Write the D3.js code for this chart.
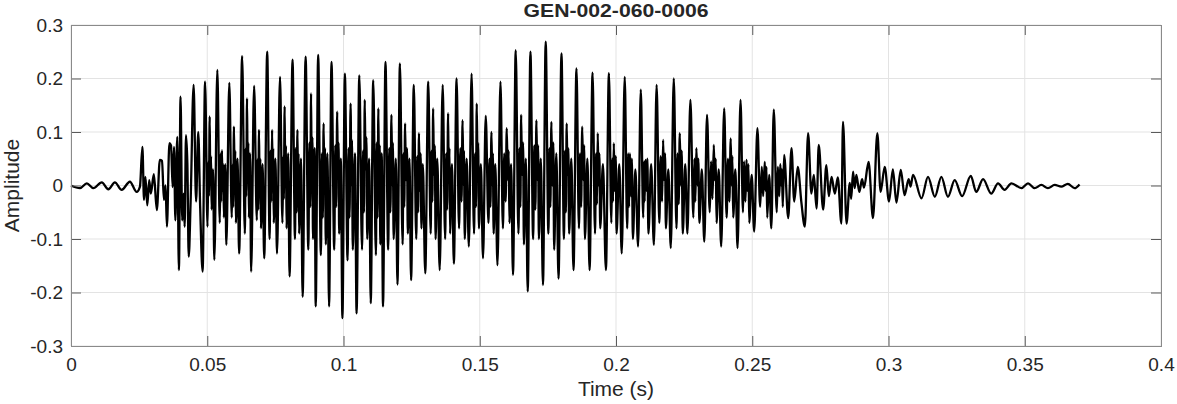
<!DOCTYPE html>
<html>
<head>
<meta charset="utf-8">
<script src="https://cdn.jsdelivr.net/npm/d3@7"></script>
<style>
  body { margin: 0; background: #fff; }
  text { font-family: "Liberation Sans", Arial, Helvetica, sans-serif; fill: #262626; }
</style>
</head>
<body>
<div id="main"></div>
<script>
const chartTitle = "GEN-002-060-0006";
const xLabel = "Time (s)";
const yLabel = "Amplitude";

const xTicks = [0, 0.05, 0.1, 0.15, 0.2, 0.25, 0.3, 0.35, 0.4];
const xTickLabels = ["0", "0.05", "0.1", "0.15", "0.2", "0.25", "0.3", "0.35", "0.4"];
const yTicks = [-0.3, -0.2, -0.1, 0, 0.1, 0.2, 0.3];
const yTickLabels = ["-0.3", "-0.2", "-0.1", "0", "0.1", "0.2", "0.3"];

// waveform, [time s, amplitude]
const quietStart = [
  [0.0000,0.000],[0.0033,-0.005],[0.0058,0.004],[0.0082,-0.005],[0.0113,0.006],[0.0137,-0.007],
  [0.0161,0.006],[0.0186,-0.008],[0.0216,0.007],[0.0241,-0.012],[0.0253,-0.002]
];

const onset = [
  [0.0262,0.072],[0.0268,-0.027],[0.0273,0.016],[0.0280,-0.037],[0.0287,0.010],[0.0293,-0.015],
  [0.0304,0.021],[0.0315,-0.046],[0.0326,0.048],[0.0334,0.046],[0.0341,-0.027],[0.0347,0.000],
  [0.0352,-0.077],[0.0361,0.079],[0.0367,0.075],[0.0373,-0.003],[0.0378,0.072],[0.0383,-0.065],
  [0.0390,0.091],[0.0396,-0.158],[0.0402,0.166],[0.0408,-0.065],[0.0413,-0.015],[0.0417,-0.077],
  [0.0422,0.094],[0.0427,0.042],[0.0432,-0.133],[0.0439,-0.030],[0.0450,0.188],[0.0459,-0.030],
  [0.0467,0.100],[0.0474,-0.040]
];

const voicedA = [
  [0.0483,-0.161],[0.0492,0.194],[0.0501,-0.077],[0.0504,0.045],[0.0506,-0.020],[0.0509,0.129],[0.0511,0.010],[0.0514,0.055],[0.0516,-0.045],[0.0521,0.030],
  [0.0526,-0.139],[0.0537,0.216],[0.0546,-0.070],[0.0549,0.060],[0.0551,-0.030],[0.0554,0.066],[0.0556,-0.010],[0.0559,0.040],[0.0561,-0.060],[0.0566,0.040],
  [0.0570,-0.111],[0.0581,0.192],[0.0590,-0.060],[0.0593,0.040],[0.0595,-0.040],[0.0598,0.110],[0.0600,0.020],[0.0603,0.065],[0.0605,-0.070],[0.0611,0.050],
  [0.0617,-0.127],[0.0628,0.242],[0.0638,-0.090],[0.0641,0.070],[0.0643,-0.020],[0.0646,0.163],[0.0648,0.030],[0.0651,0.080],[0.0653,-0.060],[0.0657,0.060],
  [0.0661,-0.161],[0.0672,0.186],[0.0682,-0.065],[0.0685,0.050],[0.0687,-0.045],[0.0690,0.104],[0.0692,-0.005],[0.0695,0.050],[0.0697,-0.080],[0.0703,0.040],
  [0.0709,-0.136],[0.0720,0.250],[0.0729,-0.100],[0.0732,0.065],[0.0735,-0.030],[0.0738,0.104],[0.0740,0.000],[0.0742,0.070],[0.0744,-0.070],[0.0750,0.050],
  [0.0756,-0.127],[0.0767,0.203],[0.0776,-0.070],[0.0779,0.055],[0.0781,-0.025],[0.0784,0.148],[0.0786,0.020],[0.0789,0.075],[0.0791,-0.080],[0.0797,0.060],
  [0.0802,-0.170],[0.0813,0.235],[0.0822,-0.100],[0.0825,0.070],[0.0828,-0.050],[0.0831,0.104],[0.0833,-0.010],[0.0835,0.060],[0.0837,-0.090],[0.0844,0.050],
  [0.0850,-0.208],[0.0861,0.241],[0.0871,-0.120],[0.0875,0.080],[0.0878,-0.040],[0.0881,0.172],[0.0883,0.030],[0.0886,0.090],[0.0888,-0.100],[0.0894,0.070],
  [0.0898,-0.226],[0.0907,0.244],[0.0917,-0.130],[0.0921,0.060],[0.0924,-0.060],[0.0927,0.116],[0.0930,-0.010],[0.0932,0.070],[0.0935,-0.110],[0.0941,0.060],
  [0.0947,-0.226],[0.0956,0.231],[0.0966,-0.120],[0.0970,0.075],[0.0973,-0.040],[0.0977,0.138],[0.0979,0.020],[0.0982,0.080],[0.0984,-0.090],[0.0990,0.050],
  [0.0996,-0.248],[0.1005,0.209],[0.1015,-0.140],[0.1019,0.070],[0.1022,-0.060],[0.1026,0.153],[0.1029,0.000],[0.1031,0.085],[0.1034,-0.120],[0.1042,0.060],
  [0.1048,-0.239],[0.1058,0.206],[0.1068,-0.120],[0.1072,0.065],[0.1075,-0.050],[0.1078,0.160],[0.1081,0.030],[0.1084,0.090],[0.1087,-0.100],[0.1094,0.050],
  [0.1100,-0.220],[0.1109,0.197],[0.1119,-0.130],[0.1122,0.080],[0.1125,-0.060],[0.1128,0.144],[0.1130,0.010],[0.1133,0.075],[0.1135,-0.110],[0.1140,0.060],
  [0.1145,-0.226],[0.1154,0.231],[0.1164,-0.120],[0.1168,0.070],[0.1172,-0.050],[0.1176,0.132],[0.1179,0.000],[0.1181,0.080],[0.1184,-0.100],[0.1192,0.050],
  [0.1198,-0.185],[0.1207,0.228],[0.1217,-0.110],[0.1220,0.060],[0.1223,-0.040],[0.1226,0.116],[0.1229,0.010],[0.1233,0.070],[0.1236,-0.090],[0.1242,0.050]
];

const voicedB = [
  [0.1248,-0.177],[0.1258,0.188],[0.1267,-0.100],[0.1271,0.055],[0.1274,-0.050],[0.1277,0.098],[0.1280,-0.010],[0.1283,0.060],[0.1286,-0.080],[0.1291,0.040],
  [0.1300,-0.164],[0.1311,0.194],[0.1320,-0.090],[0.1323,0.065],[0.1326,-0.030],[0.1329,0.144],[0.1332,0.020],[0.1335,0.075],[0.1338,-0.100],[0.1344,0.050],
  [0.1353,-0.158],[0.1364,0.188],[0.1373,-0.100],[0.1377,0.060],[0.1380,-0.045],[0.1384,0.135],[0.1386,0.010],[0.1389,0.070],[0.1391,-0.090],[0.1398,0.040],
  [0.1405,-0.146],[0.1415,0.200],[0.1424,-0.080],[0.1429,0.070],[0.1433,-0.030],[0.1437,0.122],[0.1440,0.000],[0.1442,0.065],[0.1445,-0.100],[0.1452,0.050],
  [0.1460,-0.114],[0.1470,0.209],[0.1479,-0.090],[0.1483,0.060],[0.1486,-0.040],[0.1489,0.153],[0.1492,0.030],[0.1494,0.080],[0.1497,-0.080],[0.1504,0.040],
  [0.1512,-0.136],[0.1522,0.130],[0.1532,-0.070],[0.1536,0.050],[0.1539,-0.040],[0.1543,0.100],[0.1546,0.000],[0.1548,0.060],[0.1551,-0.090],[0.1557,0.040],
  [0.1565,-0.149],[0.1576,0.194],[0.1585,-0.080],[0.1590,0.060],[0.1595,-0.030],[0.1599,0.107],[0.1603,0.010],[0.1606,0.065],[0.1609,-0.070],[0.1615,0.040],
  [0.1622,-0.167],[0.1632,0.253],[0.1642,-0.090],[0.1646,0.070],[0.1649,-0.040],[0.1652,0.132],[0.1655,0.020],[0.1659,0.080],[0.1662,-0.110],[0.1669,0.050],
  [0.1676,-0.198],[0.1686,0.250],[0.1696,-0.100],[0.1700,0.075],[0.1704,-0.045],[0.1708,0.122],[0.1711,0.010],[0.1714,0.075],[0.1717,-0.100],[0.1724,0.050],
  [0.1732,-0.186],[0.1742,0.269],[0.1752,-0.090],[0.1756,0.070],[0.1759,-0.040],[0.1763,0.119],[0.1766,0.000],[0.1770,0.080],[0.1773,-0.120],[0.1781,0.060],
  [0.1789,-0.174],[0.1800,0.247],[0.1809,-0.100],[0.1813,0.065],[0.1816,-0.050],[0.1819,0.116],[0.1822,0.020],[0.1825,0.070],[0.1828,-0.090],[0.1836,0.050],
  [0.1844,-0.158],[0.1855,0.219],[0.1864,-0.080],[0.1868,0.060],[0.1872,-0.040],[0.1876,0.110],[0.1880,0.010],[0.1883,0.075],[0.1886,-0.100],[0.1895,0.050],
  [0.1903,-0.158],[0.1914,0.211],[0.1923,-0.090],[0.1927,0.060],[0.1930,-0.035],[0.1933,0.098],[0.1936,0.000],[0.1939,0.060],[0.1942,-0.080],[0.1952,0.040]
];

const voicedC = [
  [0.1963,-0.158],[0.1974,0.210],[0.1983,-0.070],[0.1986,0.050],[0.1989,-0.030],[0.1992,0.079],[0.1995,-0.010],[0.1999,0.055],[0.2002,-0.090],[0.2012,0.040],
  [0.2021,-0.127],[0.2032,0.203],[0.2041,-0.080],[0.2045,0.060],[0.2048,-0.040],[0.2051,0.060],[0.2055,-0.020],[0.2058,0.050],[0.2062,-0.100],[0.2071,0.030],
  [0.2081,-0.114],[0.2091,0.179],[0.2100,-0.060],[0.2103,0.045],[0.2105,-0.030],[0.2108,0.048],[0.2112,-0.010],[0.2115,0.050],[0.2119,-0.090],[0.2129,0.040],
  [0.2139,-0.111],[0.2149,0.188],[0.2159,-0.070],[0.2164,0.055],[0.2169,-0.030],[0.2173,0.085],[0.2176,0.010],[0.2180,0.060],[0.2183,-0.080],[0.2192,0.030],
  [0.2201,-0.117],[0.2212,0.200],[0.2222,-0.080],[0.2226,0.060],[0.2230,-0.035],[0.2234,0.098],[0.2238,0.000],[0.2241,0.065],[0.2245,-0.090],[0.2254,0.040],
  [0.2262,-0.090],[0.2273,0.160],[0.2284,-0.060],[0.2288,0.050],[0.2291,-0.030],[0.2295,0.070],[0.2299,0.000],[0.2302,0.050],[0.2306,-0.070],[0.2315,0.030],
  [0.2324,-0.105],[0.2334,0.132],[0.2344,-0.050],[0.2349,0.045],[0.2354,-0.025],[0.2359,0.076],[0.2362,0.010],[0.2366,0.050],[0.2369,-0.070],[0.2377,0.030],
  [0.2386,-0.114],[0.2397,0.144],[0.2406,-0.060],[0.2411,0.050],[0.2416,-0.030],[0.2421,0.088],[0.2424,0.000],[0.2427,0.055],[0.2430,-0.060],[0.2438,0.030],
  [0.2446,-0.117],[0.2457,0.160],[0.2466,-0.050],[0.2470,0.045],[0.2475,-0.030],[0.2479,0.048],[0.2482,-0.010],[0.2486,0.040],[0.2489,-0.070],[0.2498,0.020],
  [0.2507,-0.086],[0.2519,0.107],[0.2529,-0.040],[0.2535,0.035],[0.2540,-0.020],[0.2546,0.044],[0.2549,-0.010],[0.2552,0.035],[0.2555,-0.060],[0.2562,0.020],
  [0.2570,-0.080],[0.2579,0.142],[0.2590,-0.050],[0.2594,0.035],[0.2599,-0.020],[0.2603,0.040],[0.2606,0.000],[0.2609,0.030],[0.2612,-0.040],[0.2617,0.057],
  [0.2632,-0.061],[0.2644,0.070],[0.2654,-0.030]
];

const decay = [
  [0.2667,0.035],[0.2680,-0.030],[0.2693,-0.077],[0.2705,0.098],[0.2717,-0.015],[0.2726,0.020],
  [0.2736,-0.043],[0.2744,0.076],[0.2760,-0.045],[0.2772,0.038],[0.2781,-0.020],[0.2791,0.016],
  [0.2803,-0.015],[0.2814,0.015],[0.2827,-0.071],[0.2833,0.119],[0.2846,-0.071],[0.2858,0.005],
  [0.2863,-0.025],[0.2870,0.026],[0.2876,-0.005],[0.2882,0.020],[0.2893,-0.012],[0.2903,0.012],
  [0.2910,-0.004],[0.2927,0.044],[0.2943,-0.061],[0.2959,0.098],[0.2971,-0.012],[0.2986,0.035],
  [0.3002,-0.030],[0.3016,0.030],[0.3029,-0.032],[0.3045,0.029],[0.3059,-0.018],[0.3074,0.012],
  [0.3081,-0.002],[0.3090,0.020]
];

const tail = [
  [0.3121,-0.024],[0.3145,0.016],[0.3170,-0.021],[0.3194,0.016],[0.3218,-0.021],[0.3243,0.010],
  [0.3270,-0.020],[0.3302,0.018],[0.3322,-0.012],[0.3347,0.012],[0.3377,-0.015],[0.3402,0.004],
  [0.3426,-0.008],[0.3451,0.004],[0.3488,-0.005],[0.3512,0.004],[0.3536,-0.005],[0.3561,0.001],
  [0.3585,-0.005],[0.3610,0.001],[0.3634,-0.002],[0.3658,0.003],[0.3683,-0.005],[0.3701,0.002]
];

const wave = [].concat(quietStart, onset, voicedA, voicedB, voicedC, decay, tail);

const W = 1177, H = 404;
const margin = {left: 71, top: 25, right: 16, bottom: 58};
const iw = W - margin.left - margin.right;
const ih = H - margin.top - margin.bottom;

const svg = d3.select("#main").append("svg")
  .attr("width", W).attr("height", H);

const g = svg.append("g").attr("transform", "translate(" + margin.left + "," + margin.top + ")");

const x = d3.scaleLinear().domain([0, 0.4]).range([0, iw]);
const y = d3.scaleLinear().domain([-0.3, 0.3]).range([ih, 0]);

// grid
g.append("g").selectAll("line").data(xTicks).enter().append("line")
  .attr("x1", d => x(d)).attr("x2", d => x(d))
  .attr("y1", 0).attr("y2", ih)
  .attr("stroke", "#e3e3e3").attr("stroke-width", 1);
g.append("g").selectAll("line").data(yTicks).enter().append("line")
  .attr("x1", 0).attr("x2", iw)
  .attr("y1", d => y(d)).attr("y2", d => y(d))
  .attr("stroke", "#e3e3e3").attr("stroke-width", 1);

// waveform
const line = d3.line().curve(d3.curveMonotoneX).x(d => x(d[0])).y(d => y(d[1]));
g.append("path").datum(wave)
  .attr("d", line)
  .attr("fill", "none")
  .attr("stroke", "#000")
  .attr("stroke-width", 2.3)
  .attr("stroke-linejoin", "round");

// axes, ticks pointing inside
function styleAxis(sel) {
  sel.select(".domain").remove();
  sel.selectAll(".tick line").attr("stroke", "#5a5a5a");
  sel.selectAll(".tick text")
    .style("font-family", '"Liberation Sans", Arial, sans-serif')
    .style("font-size", "19px")
    .attr("fill", "#262626");
}

g.append("g").attr("transform", "translate(0," + ih + ")")
  .call(d3.axisBottom(x).tickValues(xTicks).tickFormat((d, i) => xTickLabels[i])
    .tickSizeInner(-10).tickSizeOuter(0).tickPadding(12))
  .call(styleAxis);

g.append("g")
  .call(d3.axisTop(x).tickValues(xTicks).tickFormat("")
    .tickSizeInner(-10).tickSizeOuter(0))
  .call(styleAxis);

g.append("g")
  .call(d3.axisLeft(y).tickValues(yTicks).tickFormat((d, i) => yTickLabels[i])
    .tickSizeInner(-10).tickSizeOuter(0).tickPadding(8))
  .call(styleAxis);

g.append("g").attr("transform", "translate(" + iw + ",0)")
  .call(d3.axisRight(y).tickValues(yTicks).tickFormat("")
    .tickSizeInner(-10).tickSizeOuter(0))
  .call(styleAxis);

// box
g.append("rect")
  .attr("x", 0.5).attr("y", 0.5)
  .attr("width", iw).attr("height", ih)
  .attr("fill", "none").attr("stroke", "#8a8a8a").attr("stroke-width", 1);

// title and labels
svg.append("text")
  .attr("x", margin.left + iw / 2).attr("y", 17)
  .attr("text-anchor", "middle")
  .style("font-size", "19px").style("font-weight", "bold")
  .attr("textLength", 185).attr("lengthAdjust", "spacingAndGlyphs")
  .text(chartTitle);

svg.append("text")
  .attr("x", margin.left + iw / 2).attr("y", 396)
  .attr("text-anchor", "middle")
  .style("font-size", "21px")
  .text(xLabel);

svg.append("text")
  .attr("transform", "translate(19," + (margin.top + ih / 2) + ") rotate(-90)")
  .attr("text-anchor", "middle")
  .style("font-size", "21px")
  .text(yLabel);
</script>
</body>
</html>
